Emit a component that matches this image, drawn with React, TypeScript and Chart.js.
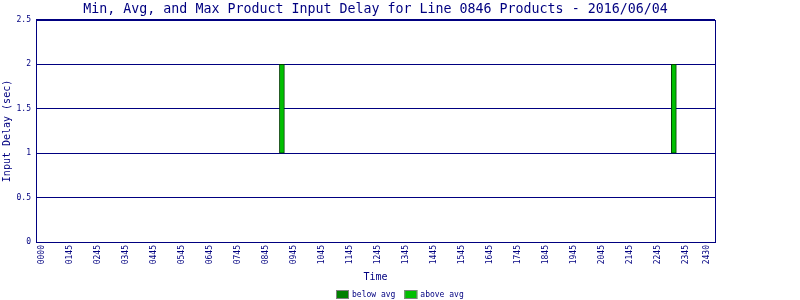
import React, { useEffect, useRef } from "react";
import { Chart, registerables } from "chart.js";

Chart.register(...registerables);

const titleText = "Min, Avg, and Max Product Input Delay for Line 0846 Products - 2016/06/04";
const timeLabels = ["0000", "0145", "0245", "0345", "0445", "0545", "0645", "0745", "0845", "0945", "1045", "1145", "1245", "1345", "1445", "1545", "1645", "1745", "1845", "1945", "2045", "2145", "2245", "2345", "2430"];
const tickValues = [0, 1, 2, 3, 4, 5, 6, 7, 8, 9, 10, 11, 12, 13, 14, 15, 16, 17, 18, 19, 20, 21, 22, 23, 23.75];
const barTimes = [8.57, 22.57];
const minDelay = [1, 1];
const maxDelay = [2, 2];
const yTicks = [0, 0.5, 1, 1.5, 2, 2.5];

const NAVY = "#000080";
const MONO = "'DejaVu Sans Mono', 'Liberation Mono', monospace";

const frame = {
  id: "frame",
  afterDatasetsDraw(chart: any) {
    const { ctx, chartArea: a } = chart;
    ctx.save();
    ctx.strokeStyle = NAVY;
    ctx.lineWidth = 1;
    ctx.strokeRect(Math.round(a.left) + 0.5, Math.round(a.top) + 0.5, Math.round(a.right - a.left), Math.round(a.bottom - a.top));
    ctx.restore();
  },
};

const bottomLegend = {
  id: "bottomLegend",
  afterDraw(chart: any) {
    const { ctx, width, height } = chart;
    const ds = chart.data.datasets;
    ctx.save();
    ctx.font = `8px ${MONO}`;
    const boxW = 13, boxH = 9, gap = 3, itemGap = 9;
    const widths = ds.map((d: any) => boxW + gap + ctx.measureText(d.label).width);
    const total = widths.reduce((s: number, w: number) => s + w, 0) + itemGap * (ds.length - 1);
    let x = Math.round(width / 2 - total / 2);
    const top = height - boxH - 1;
    ds.forEach((d: any, i: number) => {
      ctx.fillStyle = d.legendColor || d.backgroundColor;
      ctx.fillRect(x, top, boxW, boxH);
      ctx.strokeStyle = "#808080";
      ctx.lineWidth = 1;
      ctx.strokeRect(x + 0.5, top + 0.5, boxW - 1, boxH - 1);
      ctx.fillStyle = NAVY;
      ctx.textBaseline = "middle";
      ctx.textAlign = "left";
      ctx.fillText(d.label, x + boxW + gap, top + boxH / 2);
      x += widths[i] + itemGap;
    });
    ctx.restore();
  },
};

export default function App() {
  const ref = useRef<HTMLCanvasElement | null>(null);
  useEffect(() => {
    document.body.style.margin = "0";
    const chart = new Chart(ref.current as HTMLCanvasElement, {
      type: "bar",
      data: {
        datasets: [
          {
            label: "below avg",
            data: [],
            backgroundColor: "#008000",
            borderColor: "#808080",
          },
          {
            label: "above avg",
            data: barTimes.map((t, i) => ({ x: t, y: [minDelay[i], maxDelay[i]] })) as any,
            backgroundColor: "#00C000",
            borderColor: "#004000",
            borderWidth: 1,
            borderSkipped: false,
            barThickness: 5,
            grouped: false,
          } as any,
        ],
      },
      options: {
        animation: false,
        responsive: false,
        maintainAspectRatio: false,
        layout: { padding: { bottom: 13 } },
        scales: {
          x: {
            type: "linear",
            offset: false,
            min: -0.214,
            max: 24.04,
            afterBuildTicks: (s: any) => {
              s.ticks = tickValues.map((v) => ({ value: v }));
            },
            afterFit: (s: any) => {
              s.height = 45;
            },
            grid: { display: false, drawTicks: false },
            border: { display: false },
            ticks: {
              autoSkip: false,
              minRotation: 90,
              maxRotation: 90,
              padding: 3,
              color: NAVY,
              font: { family: MONO, size: 8 },
              callback: (_v: any, i: number) => timeLabels[i],
            },
            title: {
              display: true,
              text: "Time",
              color: NAVY,
              font: { family: MONO, size: 10 },
              padding: { top: 4, bottom: 4 },
            },
          },
          y: {
            min: 0,
            max: 2.5,
            afterBuildTicks: (s: any) => {
              s.ticks = yTicks.map((v) => ({ value: v }));
            },
            afterFit: (s: any) => {
              s.width = 36;
            },
            grid: { color: NAVY, drawTicks: false, lineWidth: 1 },
            border: { color: NAVY },
            ticks: {
              padding: 5,
              color: NAVY,
              font: { family: MONO, size: 8 },
              callback: (v: any) => String(v),
            },
            title: {
              display: true,
              text: "Input Delay (sec)",
              color: NAVY,
              font: { family: MONO, size: 10 },
              padding: { top: 1, bottom: 0 },
            },
          },
          y2: {
            position: "right",
            display: true,
            afterFit: (s: any) => {
              s.width = 85;
            },
            grid: { display: false, drawTicks: false },
            border: { display: false },
            ticks: { display: false },
          },
        },
        plugins: {
          title: {
            display: true,
            text: titleText,
            fullSize: false,
            color: NAVY,
            font: { family: MONO, size: 13.3, weight: "normal" },
            padding: { top: 2, bottom: 2 },
          },
          legend: { display: false },
          tooltip: { enabled: false },
        },
      } as any,
      plugins: [frame, bottomLegend],
    });
    return () => chart.destroy();
  }, []);
  return <canvas ref={ref} width={800} height={300} style={{ display: "block", width: 800, height: 300 }} />;
}
